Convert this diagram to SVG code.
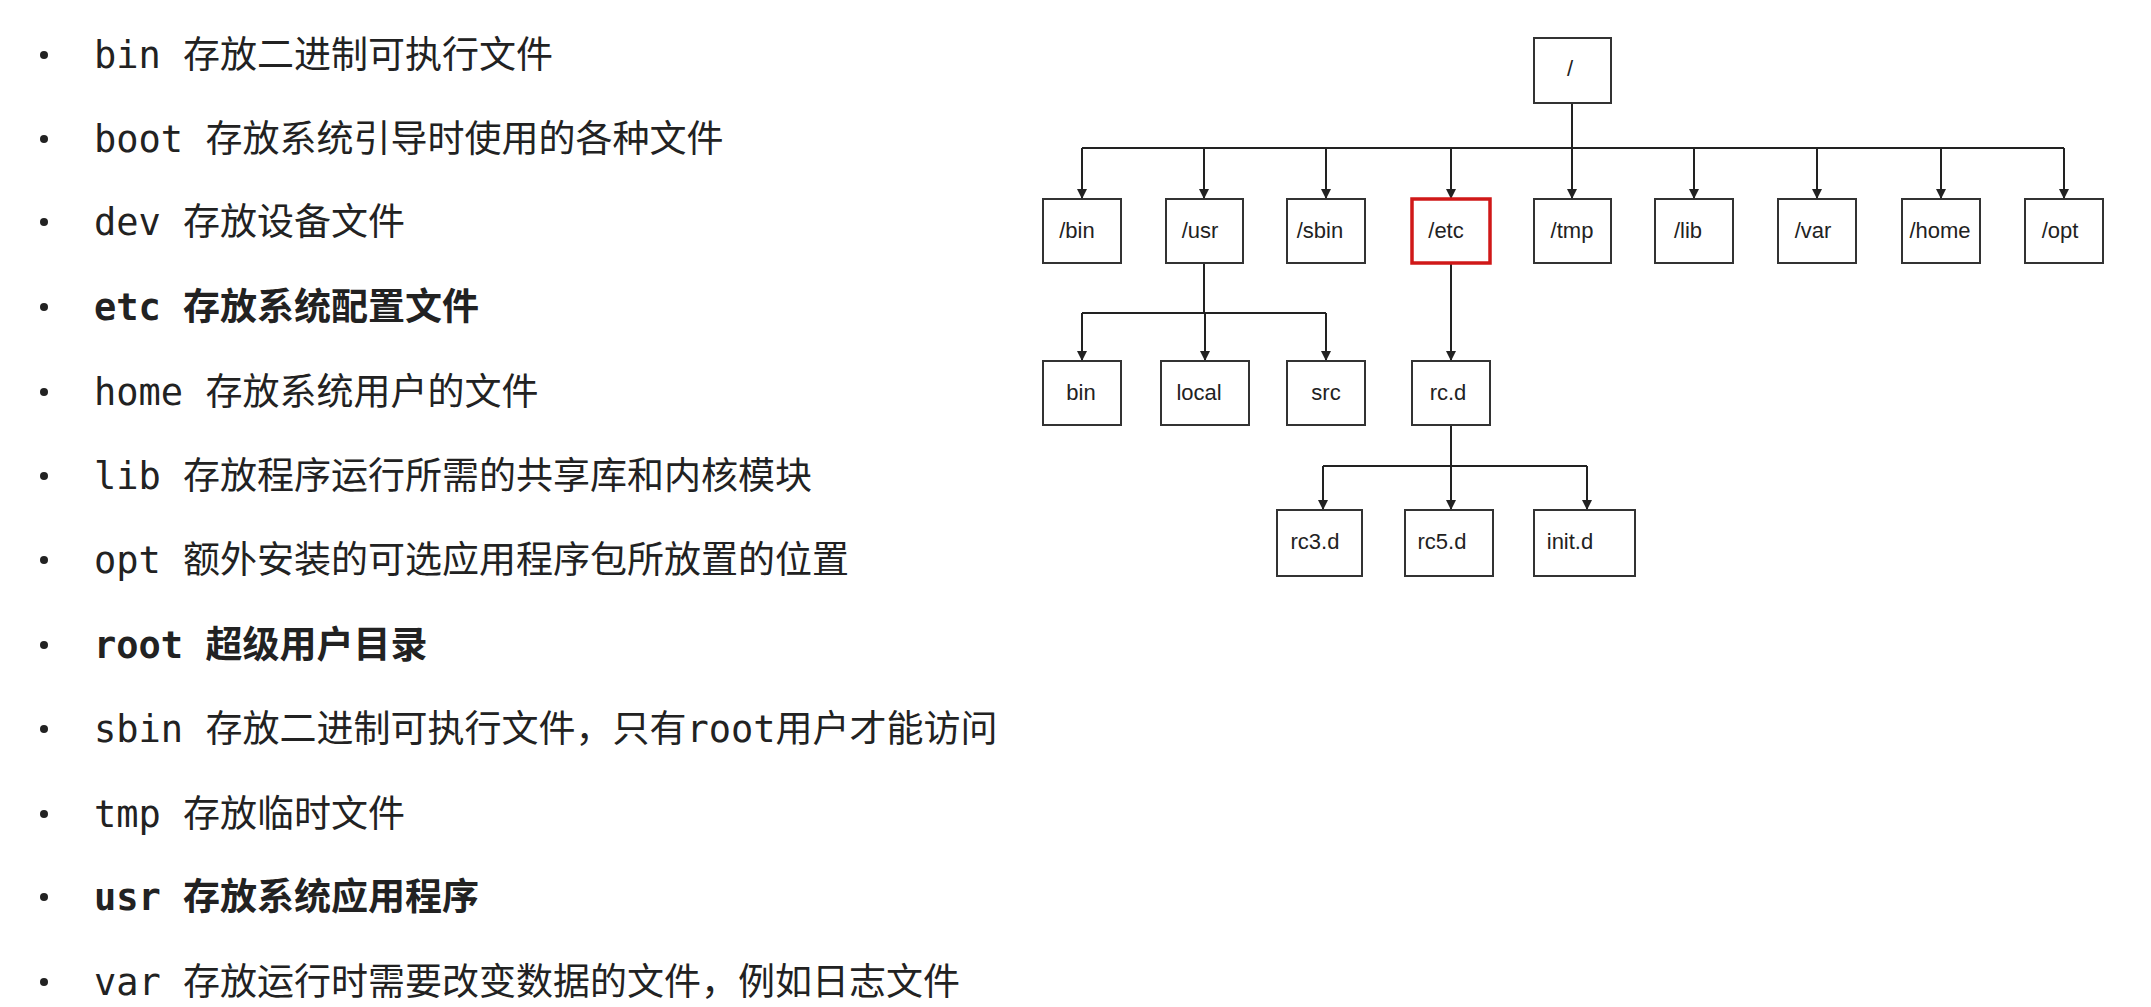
<svg xmlns="http://www.w3.org/2000/svg" width="2151" height="1007" viewBox="0 0 2151 1007">
<style>
.t{font-family:"DejaVu Sans Mono","Noto Sans CJK SC",monospace;font-size:37px;fill:#222;dominant-baseline:central}
.b{font-weight:bold}
.dot{fill:#222}
.box{fill:#fff;stroke:#333;stroke-width:2}
.red{stroke:#d01818;stroke-width:3.5}
.n{font-family:"Liberation Sans Narrow","Liberation Sans",sans-serif;font-size:22px;fill:#222;dominant-baseline:central;text-anchor:middle}
.c{fill:none;stroke:#222;stroke-width:2}
</style>
<defs><marker id="a" viewBox="0 0 10 10" refX="10" refY="5" markerWidth="10" markerHeight="12" markerUnits="userSpaceOnUse" orient="auto"><path d="M0,0L10,5L0,10z" fill="#222"/></marker></defs>
<rect width="2151" height="1007" fill="#fff"/>
<g id="list">
<circle class="dot" cx="44" cy="55" r="4"/><text class="t" x="94" y="55" xml:space="preserve">bin 存放二进制可执行文件</text>
<circle class="dot" cx="44" cy="139" r="4"/><text class="t" x="94" y="139" xml:space="preserve">boot 存放系统引导时使用的各种文件</text>
<circle class="dot" cx="44" cy="222" r="4"/><text class="t" x="94" y="222" xml:space="preserve">dev 存放设备文件</text>
<circle class="dot" cx="44" cy="307" r="4"/><text class="t b" x="94" y="307" xml:space="preserve">etc 存放系统配置文件</text>
<circle class="dot" cx="44" cy="392" r="4"/><text class="t" x="94" y="392" xml:space="preserve">home 存放系统用户的文件</text>
<circle class="dot" cx="44" cy="476" r="4"/><text class="t" x="94" y="476" xml:space="preserve">lib 存放程序运行所需的共享库和内核模块</text>
<circle class="dot" cx="44" cy="560" r="4"/><text class="t" x="94" y="560" xml:space="preserve">opt 额外安装的可选应用程序包所放置的位置</text>
<circle class="dot" cx="44" cy="645" r="4"/><text class="t b" x="94" y="645" xml:space="preserve">root 超级用户目录</text>
<circle class="dot" cx="44" cy="729" r="4"/><text class="t" x="94" y="729" xml:space="preserve">sbin 存放二进制可执行文件，只有root用户才能访问</text>
<circle class="dot" cx="44" cy="814" r="4"/><text class="t" x="94" y="814" xml:space="preserve">tmp 存放临时文件</text>
<circle class="dot" cx="44" cy="897" r="4"/><text class="t b" x="94" y="897" xml:space="preserve">usr 存放系统应用程序</text>
<circle class="dot" cx="44" cy="982" r="4"/><text class="t" x="94" y="982" xml:space="preserve">var 存放运行时需要改变数据的文件，例如日志文件</text>
</g>
<g id="connectors">
<path class="c" d="M1572,103V148M1082,148H2064"/>
<path class="c" marker-end="url(#a)" d="M1082,148V199"/>
<path class="c" marker-end="url(#a)" d="M1204,148V199"/>
<path class="c" marker-end="url(#a)" d="M1326,148V199"/>
<path class="c" marker-end="url(#a)" d="M1451,148V199"/>
<path class="c" marker-end="url(#a)" d="M1572,148V199"/>
<path class="c" marker-end="url(#a)" d="M1694,148V199"/>
<path class="c" marker-end="url(#a)" d="M1817,148V199"/>
<path class="c" marker-end="url(#a)" d="M1941,148V199"/>
<path class="c" marker-end="url(#a)" d="M2064,148V199"/>
<path class="c" d="M1204,263V313M1082,313H1326"/>
<path class="c" marker-end="url(#a)" d="M1082,313V361"/>
<path class="c" marker-end="url(#a)" d="M1205,313V361"/>
<path class="c" marker-end="url(#a)" d="M1326,313V361"/>
<path class="c" marker-end="url(#a)" d="M1451,263V361"/>
<path class="c" d="M1451,425V466M1323,466H1587"/>
<path class="c" marker-end="url(#a)" d="M1323,466V510"/>
<path class="c" marker-end="url(#a)" d="M1451,466V510"/>
<path class="c" marker-end="url(#a)" d="M1587,466V510"/>
</g>
<g id="root"><rect class="box" x="1534" y="38" width="77" height="65"/><text class="n" x="1570" y="68">/</text></g>
<g id="bin"><rect class="box" x="1043" y="199" width="78" height="64"/><text class="n" x="1077" y="230">/bin</text></g>
<g id="usr"><rect class="box" x="1166" y="199" width="77" height="64"/><text class="n" x="1200" y="230">/usr</text></g>
<g id="sbin"><rect class="box" x="1287" y="199" width="78" height="64"/><text class="n" x="1320" y="230">/sbin</text></g>
<g id="etc"><rect class="box red" x="1412" y="199" width="78" height="64"/><text class="n" x="1446" y="230">/etc</text></g>
<g id="tmp"><rect class="box" x="1534" y="199" width="77" height="64"/><text class="n" x="1572" y="230">/tmp</text></g>
<g id="lib"><rect class="box" x="1655" y="199" width="78" height="64"/><text class="n" x="1688" y="230">/lib</text></g>
<g id="var"><rect class="box" x="1778" y="199" width="78" height="64"/><text class="n" x="1813" y="230">/var</text></g>
<g id="home"><rect class="box" x="1902" y="199" width="78" height="64"/><text class="n" x="1940" y="230">/home</text></g>
<g id="opt"><rect class="box" x="2025" y="199" width="78" height="64"/><text class="n" x="2060" y="230">/opt</text></g>
<g id="usr-bin"><rect class="box" x="1043" y="361" width="78" height="64"/><text class="n" x="1081" y="392">bin</text></g>
<g id="local"><rect class="box" x="1161" y="361" width="88" height="64"/><text class="n" x="1199" y="392">local</text></g>
<g id="src"><rect class="box" x="1287" y="361" width="78" height="64"/><text class="n" x="1326" y="392">src</text></g>
<g id="rcd"><rect class="box" x="1412" y="361" width="78" height="64"/><text class="n" x="1448" y="392">rc.d</text></g>
<g id="rc3d"><rect class="box" x="1277" y="510" width="85" height="66"/><text class="n" x="1315" y="541">rc3.d</text></g>
<g id="rc5d"><rect class="box" x="1405" y="510" width="88" height="66"/><text class="n" x="1442" y="541">rc5.d</text></g>
<g id="initd"><rect class="box" x="1534" y="510" width="101" height="66"/><text class="n" x="1570" y="541">init.d</text></g>
</svg>
